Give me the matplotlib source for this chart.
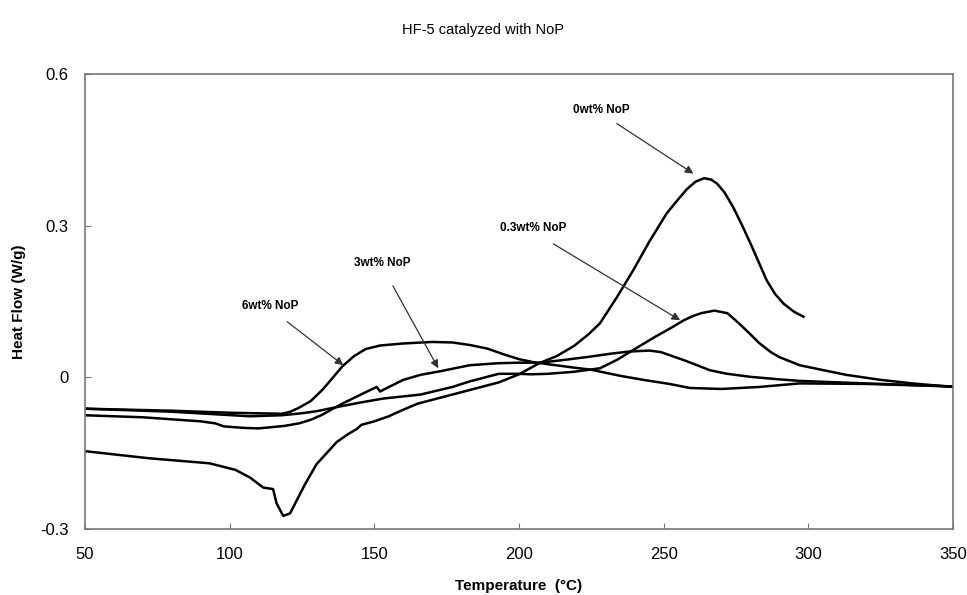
import matplotlib
matplotlib.use("Agg")
import matplotlib.pyplot as plt

plt.rcParams["font.family"] = ["Liberation Sans", "DejaVu Sans"]

# DSC traces (temperature in degC, heat flow in W/g)
t_0 = [50, 72, 93, 102, 107, 111.6, 115, 116.2, 118.5, 120.9, 123.2, 126, 130, 137,
       141, 144, 145.5, 150, 155, 160, 165, 175, 183, 193, 200, 207, 213, 219, 224,
       228, 234, 239.5, 245, 251, 255, 258, 261, 264, 266.5, 268.5, 271, 274, 277,
       280, 283, 285.6, 288.5, 291.4, 295, 298.3]
hf_0 = [-0.146, -0.160, -0.170, -0.183, -0.198, -0.218, -0.221, -0.249, -0.274, -0.269,
        -0.243, -0.212, -0.172, -0.128, -0.112, -0.102, -0.094, -0.087, -0.077, -0.064,
        -0.052, -0.037, -0.025, -0.010, 0.006, 0.028, 0.042, 0.062, 0.085, 0.107, 0.160,
        0.212, 0.268, 0.324, 0.352, 0.372, 0.387, 0.394, 0.391, 0.383, 0.366, 0.337,
        0.302, 0.265, 0.226, 0.192, 0.165, 0.146, 0.130, 0.120]

t_03 = [50, 80, 107, 118, 125, 130, 136, 145, 153, 166, 177, 183, 193, 200, 204, 210,
        219, 228, 234, 240, 247, 252, 257, 260, 263, 267.5, 272, 276, 280, 283, 287,
        290, 297, 302, 313, 325, 336, 350]
hf_03 = [-0.062, -0.068, -0.077, -0.075, -0.071, -0.067, -0.060, -0.050, -0.042, -0.034,
         -0.019, -0.008, 0.007, 0.007, 0.006, 0.007, 0.011, 0.018, 0.035, 0.056, 0.080,
         0.096, 0.113, 0.121, 0.127, 0.132, 0.127, 0.107, 0.085, 0.068, 0.050, 0.040,
         0.024, 0.018, 0.005, -0.005, -0.012, -0.019]

t_3 = [50, 70, 90, 95, 98, 105, 110, 119, 124, 128, 132, 136, 140, 145, 150.8, 152,
       154, 160, 166, 172.7, 183, 193, 200, 207, 215, 224.6, 232, 238, 245, 249, 252,
       257, 262, 266, 272, 280, 290, 297, 320, 350]
hf_3 = [-0.075, -0.079, -0.087, -0.091, -0.097, -0.100, -0.101, -0.096, -0.091, -0.084,
        -0.074, -0.061, -0.049, -0.035, -0.019, -0.028, -0.022, -0.005, 0.005, 0.012,
        0.024, 0.028, 0.029, 0.029, 0.034, 0.041, 0.047, 0.051, 0.053, 0.050, 0.044,
        0.034, 0.023, 0.014, 0.007, 0.001, -0.004, -0.007, -0.012, -0.018]

t_6 = [50, 80, 100, 118, 121, 124, 128, 132, 135, 139, 143, 147, 152, 160, 170, 177,
       183, 189, 195, 200, 205, 210, 218, 225, 235, 243, 252, 259, 270, 283, 297, 320,
       350]
hf_6 = [-0.062, -0.066, -0.070, -0.072, -0.068, -0.060, -0.047, -0.025, -0.005, 0.022,
        0.042, 0.056, 0.063, 0.067, 0.070, 0.069, 0.064, 0.057, 0.045, 0.036, 0.030,
        0.026, 0.020, 0.015, 0.003, -0.005, -0.013, -0.021, -0.023, -0.019, -0.012,
        -0.013, -0.018]

series = [(t_0, hf_0), (t_03, hf_03), (t_3, hf_3), (t_6, hf_6)]

# annotation label, text position, arrow start, arrow tip (data coords)
labels = ["0wt% NoP", "0.3wt% NoP", "3wt% NoP", "6wt% NoP"]
label_xy = [(228.5, 0.529), (205.0, 0.296), (152.8, 0.226), (114.1, 0.141)]
arrow_from = [(233.8, 0.502), (211.9, 0.264), (156.4, 0.181), (119.9, 0.110)]
arrow_to = [(260.3, 0.403), (255.7, 0.113), (172.1, 0.018), (139.3, 0.024)]

fig = plt.figure(figsize=(9.67, 5.95), dpi=100)
ax = fig.add_axes([0.0879, 0.1109, 0.8976, 0.7647])

for t, hf in series:
    ax.plot(t, hf, color="black", lw=1.8, solid_joinstyle="round")

for lab, txy, a0, a1 in zip(labels, label_xy, arrow_from, arrow_to):
    ax.text(txy[0], txy[1], lab, ha="center", va="center", fontsize=8.5,
            fontweight="bold")
    ax.annotate("", xy=a1, xytext=a0,
                arrowprops=dict(arrowstyle="-|>", color="#333333", lw=0.9,
                                mutation_scale=12, shrinkA=0, shrinkB=0))

ax.set_xlim(50, 350)
ax.set_ylim(-0.3, 0.6)
ax.set_xticks([50, 100, 150, 200, 250, 300, 350])
ax.set_yticks([-0.3, 0, 0.3, 0.6])
ax.set_yticklabels(["-0.3", "0", "0.3", "0.6"])
ax.tick_params(direction="in", length=4, width=0.8, color="#777777",
               labelsize=12)
ax.tick_params(axis="x", pad=13)
ax.tick_params(axis="y", pad=12)
for sp in ax.spines.values():
    sp.set_color("#777777")
    sp.set_linewidth(1.2)

ax.set_xlabel("Temperature  (\u00b0C)", fontsize=11, fontweight="bold", labelpad=12)
ax.set_ylabel("Heat Flow (W/g)", fontsize=11, fontweight="bold", labelpad=10)
fig.suptitle("HF-5 catalyzed with NoP", y=0.962, fontsize=10.5)

fig.savefig("out.png", dpi=100)
